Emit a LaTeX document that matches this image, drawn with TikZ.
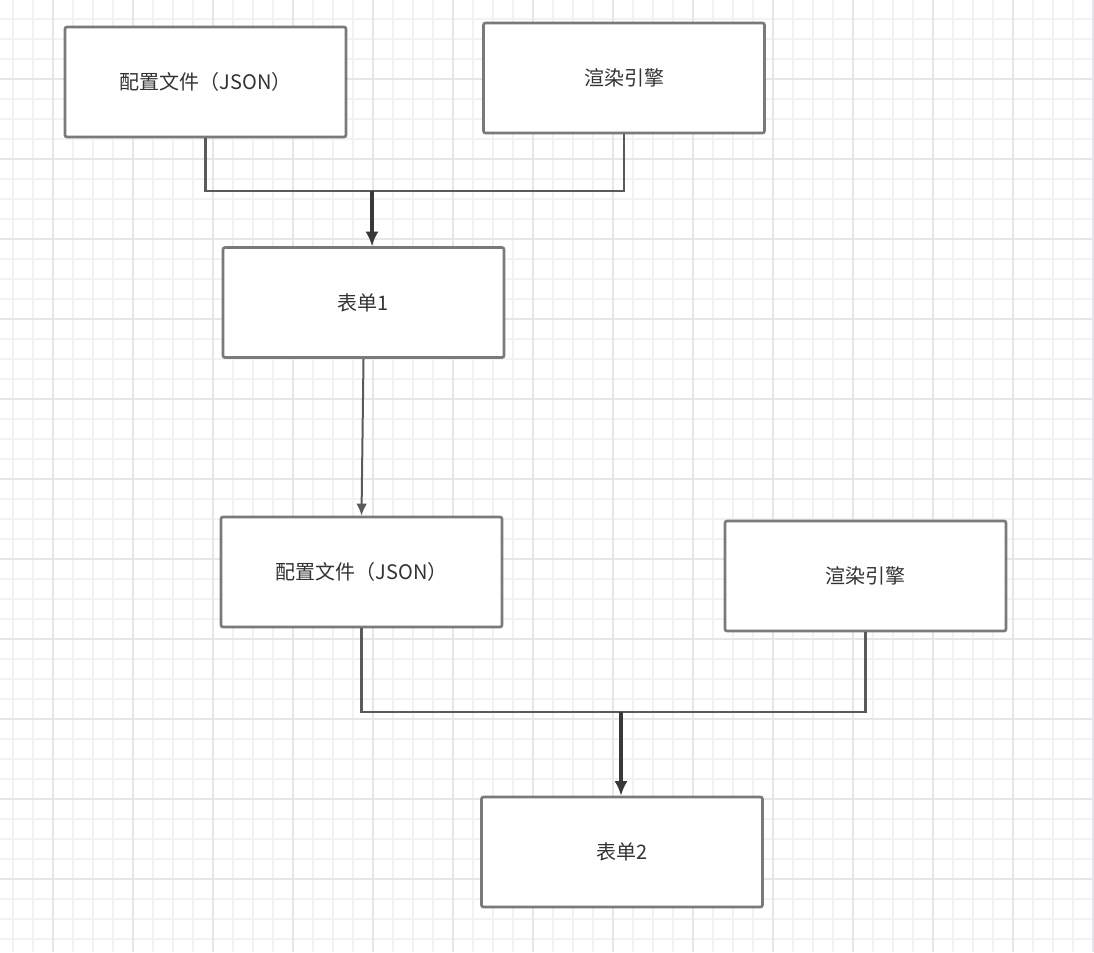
\documentclass[tikz,border=0pt]{standalone}
\usepackage{fontspec}
\newfontfamily\cjk{Noto Sans CJK SC}
\usetikzlibrary{arrows.meta}
\definecolor{gridminor}{HTML}{F2F2F5}
\definecolor{gridmajor}{HTML}{E6E6EA}
\definecolor{boxgray}{HTML}{7A7A7A}
\definecolor{linegray}{HTML}{5A5A5A}
\definecolor{arrowgray}{HTML}{383838}
\definecolor{textgray}{HTML}{333333}
\tikzset{
  stepbox/.style={draw=boxgray, line width=2pt, fill=white, rounded corners=1.5pt,
    minimum width=210.75pt, minimum height=82.5pt, inner sep=0pt,
    font=\cjk\fontsize{15}{18}\selectfont, text=textgray},
  conn/.style={draw=linegray, line width=1.7pt},
  arr/.style={draw=arrowgray, line width=2.5pt, -{Latex[length=11pt,width=10pt]}},
  arrthin/.style={draw=linegray, line width=1.5pt, -{Latex[length=9pt,width=8pt]}}
}
\begin{document}
\begin{tikzpicture}[x=0.75pt,y=-0.75pt]
\useasboundingbox (0,0) rectangle (1094,952);
\fill[white] (0,0) rectangle (1094,952);
% minor grid
\foreach \gx in {13,33,...,1093} \draw[gridminor, line width=1.1pt] (\gx,0) -- (\gx,952);
\foreach \gy in {19,39,...,951} \draw[gridminor, line width=1.1pt] (0,\gy) -- (1094,\gy);
% major grid
\foreach \gx in {53,133,...,1093} \draw[gridmajor, line width=1.4pt] (\gx,0) -- (\gx,952);
\foreach \gy in {79,159,...,951} \draw[gridmajor, line width=1.4pt] (0,\gy) -- (1094,\gy);

% boxes
\node[stepbox] (c1) at (205.5,82) {配置文件（JSON）};
\node[stepbox] (r1) at (624,78) {渲染引擎};
\node[stepbox] (f1) at (363.5,302.5) {表单1};
\node[stepbox] (c2) at (361.5,572) {配置文件（JSON）};
\node[stepbox] (r2) at (865.5,576) {渲染引擎};
\node[stepbox] (f2) at (622,852) {表单2};

% junctions
\coordinate (j1) at (372,191);
\coordinate (j2) at (621,712);

% connectors
\draw[conn] (c1.south) |- (j1);
\draw[conn] (r1.south) |- (j1);
\draw[arr] (j1) -- (j1 |- f1.north);
\draw[arrthin] (f1.south) -- (c2.north);
\draw[conn] (c2.south) |- (j2);
\draw[conn] (r2.south) |- (j2);
\draw[arr] (j2) -- (j2 |- f2.north);
\end{tikzpicture}
\end{document}
